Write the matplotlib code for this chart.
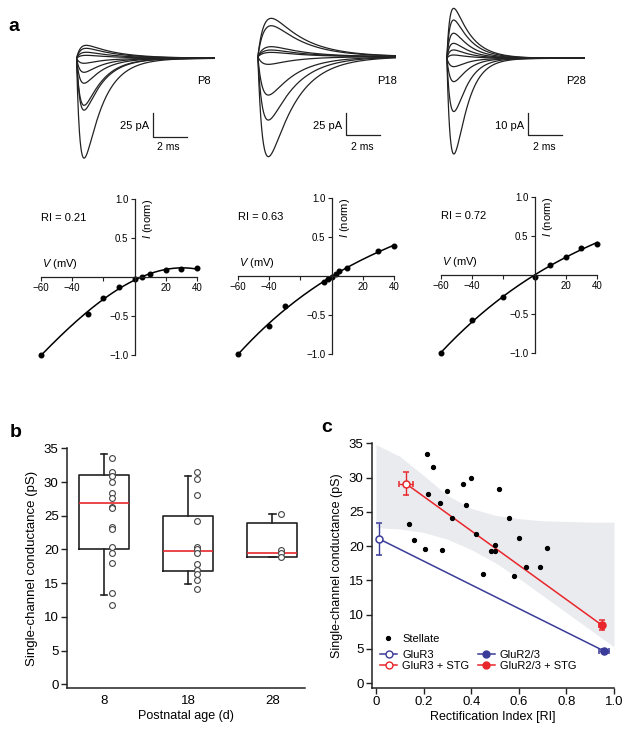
import numpy as np
import matplotlib
matplotlib.use('Agg')
import matplotlib.pyplot as plt
from matplotlib.lines import Line2D

plt.rcParams['font.family'] = ['Liberation Sans', 'DejaVu Sans']
plt.rcParams['mathtext.fontset'] = 'custom'
plt.rcParams['mathtext.it'] = 'Liberation Sans:italic'
plt.rcParams['mathtext.rm'] = 'Liberation Sans'

W, H = 634, 733
INK = '#222222'
BLUE = '#3b3b9a'
RED = '#e8262b'
BAND = '#eaebef'

# ---- panel a, top: synaptic currents (peak amplitudes in pA)
AGES = ['P8', 'P18', 'P28']
TRACE_AMPS = {
    'P8': [-104, -54, -49, -26, -14.6, -5.2, 3.1, 6.3, 10.4, 13.5],
    'P18': [-113.6, -72, -43.6, -8.7, 4.9, 7.6, 11.4, 35.2, 43.6],
    'P28': [-43.5, -24.2, -10.6, -3.8, 1.5, 3.8, 6.8, 11.4, 17.4, 22.7],
}
# rise / decay time constants (ms) for inward and outward currents
KIN_IN = {'P8': (0.22, 1.1), 'P18': (0.3, 1.6), 'P28': (0.25, 0.75)}
KIN_OUT = {'P8': (0.25, 1.8), 'P18': (0.4, 1.9), 'P28': (0.2, 1.0)}
SCALE_PA = {'P8': 25, 'P18': 25, 'P28': 10}

# ---- panel a, bottom: I-V relations
IV_V = {
    'P8': [-60, -30, -20, -10, 0, 5, 10, 20, 30, 40],
    'P18': [-60, -40, -30, -5, -2.5, 0, 3, 5, 10, 30, 40],
    'P28': [-60, -40, -20, 0, 10, 20, 30, 40],
}
IV_I = {
    'P8': [-1.0, -0.475, -0.27, -0.13, -0.026, 0.0, 0.043, 0.086, 0.10, 0.116],
    'P18': [-1.0, -0.64, -0.39, -0.077, -0.04, -0.01, 0.026, 0.064, 0.10, 0.32, 0.39],
    'P28': [-1.0, -0.58, -0.28, -0.026, 0.13, 0.23, 0.35, 0.40],
}
RI = {'P8': '0.21', 'P18': '0.63', 'P28': '0.72'}

# ---- panel b: conductance vs postnatal age
AGE_LABELS = ['8', '18', '28']
BOX_MED = [26.9, 19.7, 19.5]
BOX_Q1 = [20.0, 16.8, 18.9]
BOX_Q3 = [31.0, 25.0, 23.9]
BOX_LO = [13.2, 14.9, 18.9]
BOX_HI = [34.1, 30.9, 25.3]
CELLS_P8 = [33.5, 31.5, 30.9, 30.0, 28.4, 27.6, 26.3, 26.1, 23.4, 23.1, 20.3, 19.5, 18.0, 13.5, 11.7]
CELLS_P18 = [31.5, 30.4, 28.1, 24.2, 20.4, 20.0, 19.4, 17.9, 17.0, 16.3, 15.5, 14.1]
CELLS_P28 = [25.3, 19.9, 19.4, 18.9]

# ---- panel c: conductance vs rectification index
STELLATE_RI = [0.213, 0.239, 0.218, 0.139, 0.160, 0.207, 0.279, 0.267, 0.298, 0.321,
               0.367, 0.378, 0.399, 0.420, 0.448, 0.482, 0.500, 0.500, 0.518, 0.560,
               0.580, 0.599, 0.630, 0.689, 0.720]
STELLATE_G = [33.4, 31.5, 27.6, 23.2, 20.9, 19.6, 19.4, 26.3, 28.0, 24.1,
              29.0, 26.0, 29.9, 21.8, 15.9, 19.3, 20.2, 19.3, 28.3, 24.1,
              15.6, 21.2, 17.0, 17.0, 19.7]
BAND_RI = [0, 0.1, 0.2, 0.3, 0.4, 0.5, 0.6, 0.7, 0.8, 0.9, 1.0]
BAND_LO = [22.7, 22.5, 22.0, 21.0, 19.5, 17.6, 15.3, 12.8, 10.3, 7.8, 5.3]
BAND_HI = [34.8, 33.1, 30.3, 27.4, 25.5, 24.5, 24.0, 23.7, 23.6, 23.5, 23.5]
# recombinant receptors, [alone, + STG]: RI, RI err, conductance, conductance err
GLUR3_RI, GLUR3_RI_ERR, GLUR3_G, GLUR3_G_ERR = [0.013, 0.126], [0.0, 0.029], [21.05, 29.1], [2.3, 1.7]
GLUR23_RI, GLUR23_RI_ERR, GLUR23_G, GLUR23_G_ERR = [0.958, 0.948], [0.02, 0.01], [4.7, 8.5], [0.3, 0.75]


def px_axes(fig, left, top, width, height):
    return fig.add_axes([left / W, 1 - (top + height) / H, width / W, height / H])


def ftext(fig, x, y, s, **kw):
    fig.text(x / W, 1 - y / H, s, **kw)


def epsc(t, amp, tr, td, t0=0.05):
    s = np.clip(t - t0, 0, None)
    w = np.exp(-s / td) - np.exp(-s / tr)
    return amp * w / w.max()


fig = plt.figure(figsize=(W / 100, H / 100), dpi=100)

# ---------------- panel a traces
trace_left = {'P8': 75.7, 'P18': 257, 'P28': 446}
trace_base = {'P8': 58.3, 'P18': 56.7, 'P28': 58.3}
px_per_pa = {'P8': 0.96, 'P18': 0.88, 'P28': 2.2}
bar_x = {'P8': 152.7, 'P18': 346, 'P28': 528}
bar_y = {'P8': 137.3, 'P18': 135, 'P28': 135}
label_x = {'P8': 204, 'P18': 387, 'P28': 576}
px_per_ms = 17.0
t = np.linspace(0, 8.2, 600)
for age in AGES:
    ax = px_axes(fig, trace_left[age], 0, 8.2 * px_per_ms, 170)
    k = px_per_pa[age]
    ax.set_xlim(0, 8.2)
    ax.set_ylim(-(170 - trace_base[age]) / k, trace_base[age] / k)
    ax.axis('off')
    for amp in TRACE_AMPS[age]:
        tr, td = KIN_IN[age] if amp < 0 else KIN_OUT[age]
        ax.plot(t, epsc(t, amp, tr, td), color=INK, lw=0.9)
    # scale bar
    bt = (bar_x[age] - trace_left[age]) / px_per_ms
    by = (trace_base[age] - bar_y[age]) / k
    ax.plot([bt, bt, bt + 2], [by + SCALE_PA[age], by, by], color=INK, lw=0.9, clip_on=False)
    ftext(fig, bar_x[age] - 4, 129, f'{SCALE_PA[age]} pA', ha='right', va='baseline', fontsize=8)
    ftext(fig, bar_x[age] + 16, 150, '2 ms', ha='center', va='baseline', fontsize=7.5)
    ftext(fig, label_x[age], 84, age, ha='center', va='baseline', fontsize=8)

ftext(fig, 8, 31, 'a', fontsize=14, fontweight='bold', va='baseline')

# ---------------- panel a I-V curves
iv_pos = {'P8': (41, 199), 'P18': (238, 198), 'P28': (441, 197)}
for age in AGES:
    ax = px_axes(fig, iv_pos[age][0], iv_pos[age][1], 156, 156)
    v = np.array(IV_V[age])
    i = np.array(IV_I[age])
    vv = np.linspace(-60, 40, 200)
    ax.plot(vv, np.polyval(np.polyfit(v, i, 3), vv), color='k', lw=1.1, clip_on=False)
    ax.plot(v, i, 'o', color='k', ms=3.3, clip_on=False)
    ax.set_xlim(-60, 40)
    ax.set_ylim(-1, 1)
    for s in ['top', 'right']:
        ax.spines[s].set_visible(False)
    for s in ['left', 'bottom']:
        ax.spines[s].set_position(('data', 0))
        ax.spines[s].set_linewidth(0.9)
        ax.spines[s].set_color(INK)
    ax.set_xticks([-60, -40, -20, 20, 40])
    ax.set_xticklabels(['\u221260', '\u221240', '', '20', '40'])
    ax.set_yticks([-1, -0.5, 0.5, 1])
    ax.set_yticklabels(['\u22121.0', '\u22120.5', '0.5', '1.0'])
    ax.tick_params(length=3, width=0.8, labelsize=7, pad=1.5, color=INK)
    ax.patch.set_alpha(0)
    ax.text(-60, 0.76, f'RI = {RI[age]}', fontsize=8, va='center', ha='left')
    ax.text(-59.5, 0.08, r'$\it{V}$ (mV)', fontsize=8, va='bottom', ha='left')
    ax.text(4, 1.0, r'$\it{I}$ (norm)', fontsize=8, va='top', ha='left', rotation=90)

# ---------------- panel b
ax = px_axes(fig, 67, 448.3, 238, 688 - 448.3)
stats = []
for k in range(3):
    stats.append(dict(med=BOX_MED[k], q1=BOX_Q1[k], q3=BOX_Q3[k],
                      whislo=BOX_LO[k], whishi=BOX_HI[k], fliers=[]))
ax.bxp(stats, positions=[1, 2, 3], widths=0.6, capwidths=0.08, showfliers=False,
       boxprops=dict(color=INK, lw=1.2), whiskerprops=dict(color=INK, lw=1.2),
       capprops=dict(color=INK, lw=1.2), medianprops=dict(color=RED, lw=1.2))
for k, cells in enumerate([CELLS_P8, CELLS_P18, CELLS_P28]):
    ax.plot([k + 1.1] * len(cells), cells, 'o', mfc='white', mec='#444444',
            ms=4.2, mew=0.8, zorder=3)
ax.set_xlim(0.56, 3.39)
ax.set_ylim(-0.55, 35)
ax.set_yticks(range(0, 36, 5))
ax.set_xticks([1, 2, 3])
ax.set_xticklabels(AGE_LABELS)
for s in ['top', 'right']:
    ax.spines[s].set_visible(False)
for s in ['left', 'bottom']:
    ax.spines[s].set_linewidth(1.1)
    ax.spines[s].set_color(INK)
ax.tick_params(axis='y', length=4, width=1, labelsize=9.5, pad=2, color=INK)
ax.tick_params(axis='x', length=0, labelsize=9.5, pad=5)
ax.set_xlabel('Postnatal age (d)', fontsize=9, labelpad=2)
ax.set_ylabel('Single-channel conductance (pS)', fontsize=9.5, labelpad=4)
ftext(fig, 10, 437, 'b', fontsize=14, fontweight='bold', va='baseline')

# ---------------- panel c
ax = px_axes(fig, 372, 443.3, 242, 688 - 443.3)
ax.fill_between(BAND_RI, BAND_LO, BAND_HI, color=BAND, lw=0, zorder=0)
ax.plot(GLUR3_RI[:1] + GLUR23_RI[:1], GLUR3_G[:1] + GLUR23_G[:1], color=BLUE, lw=1.1, zorder=2)
ax.plot(GLUR3_RI[1:] + GLUR23_RI[1:], GLUR3_G[1:] + GLUR23_G[1:], color=RED, lw=1.1, zorder=2)
ax.plot(STELLATE_RI, STELLATE_G, 'o', color='k', ms=2.8, zorder=3)
for j, col in enumerate([BLUE, RED]):
    ax.errorbar(GLUR3_RI[j], GLUR3_G[j], xerr=GLUR3_RI_ERR[j], yerr=GLUR3_G_ERR[j],
                fmt='o', mfc='white', mec=col, ecolor=col, ms=5, mew=1.1,
                elinewidth=1.0, capsize=2.2, capthick=1.0, zorder=4)
    ax.errorbar(GLUR23_RI[j], GLUR23_G[j], xerr=GLUR23_RI_ERR[j], yerr=GLUR23_G_ERR[j],
                fmt='o', mfc=col, mec=col, ecolor=col, ms=5, mew=1.1,
                elinewidth=1.0, capsize=2.2, capthick=1.0, zorder=4)
ax.set_xlim(-0.017, 1.0)
ax.set_ylim(-0.7, 35)
ax.set_xticks([0, 0.2, 0.4, 0.6, 0.8, 1.0])
ax.set_xticklabels(['0', '0.2', '0.4', '0.6', '0.8', '1.0'])
ax.set_yticks(range(0, 36, 5))
for s in ['top', 'right']:
    ax.spines[s].set_visible(False)
for s in ['left', 'bottom']:
    ax.spines[s].set_linewidth(1.1)
    ax.spines[s].set_color(INK)
ax.tick_params(length=4, width=1, labelsize=9.5, pad=2, color=INK)
ax.set_xlabel('Rectification Index [RI]', fontsize=9, labelpad=2)
ax.set_ylabel('Single-channel conductance (pS)', fontsize=9, labelpad=4)

h_st = Line2D([], [], ls='none', marker='o', color='k', ms=2.8)
leg1 = ax.legend([h_st], ['Stellate'], loc='center left', frameon=False, fontsize=8,
                 bbox_to_anchor=(381 / W, 1 - 639 / H), bbox_transform=fig.transFigure,
                 borderaxespad=0, borderpad=0, handlelength=1.3, handletextpad=0.6)
ax.add_artist(leg1)
hands = [Line2D([], [], color=BLUE, marker='o', mfc='white', mec=BLUE, ms=5, lw=1.1),
         Line2D([], [], color=RED, marker='o', mfc='white', mec=RED, ms=5, lw=1.1),
         Line2D([], [], color=BLUE, marker='o', mfc=BLUE, mec=BLUE, ms=5, lw=1.1),
         Line2D([], [], color=RED, marker='o', mfc=RED, mec=RED, ms=5, lw=1.1)]
ax.legend(hands, ['GluR3', 'GluR3 + STG', 'GluR2/3', 'GluR2/3 + STG'], ncol=2,
          loc='center left', frameon=False, fontsize=8,
          bbox_to_anchor=(380 / W, 1 - 660.5 / H), bbox_transform=fig.transFigure,
          borderaxespad=0, borderpad=0, handlelength=1.55, handletextpad=0.45,
          columnspacing=0.75, labelspacing=0.05)
ftext(fig, 321, 432, 'c', fontsize=14, fontweight='bold', va='baseline')

fig.savefig('out.png', dpi=100)
plt.close(fig)
